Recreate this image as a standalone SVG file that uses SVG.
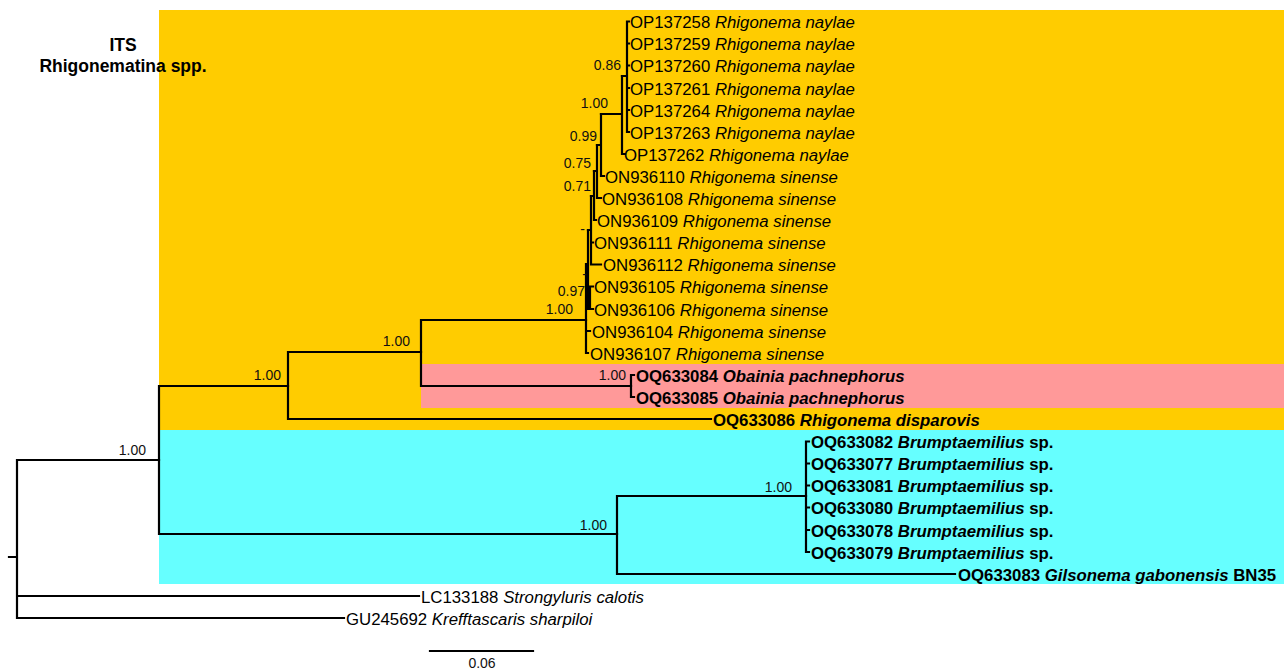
<svg xmlns="http://www.w3.org/2000/svg" width="1284" height="671" viewBox="0 0 1284 671">
<style>
.leaf{font-family:"Liberation Sans",Arial,sans-serif;font-size:16.8px;fill:#000}
.b{font-weight:bold}
.i{font-style:italic}
.sup{font-family:"Liberation Sans",Arial,sans-serif;font-size:14px;fill:#111;text-anchor:end}
.title{font-family:"Liberation Sans",Arial,sans-serif;font-size:17.5px;font-weight:bold;fill:#000;text-anchor:middle}
.br{fill:none;stroke:#000;stroke-width:2.2;stroke-linecap:square}
</style>
<rect width="1284" height="671" fill="#fff"/>
<g id="backgrounds">
<rect x="159" y="10" width="1125" height="420" fill="#FFCC00"/>
<rect x="421" y="364" width="863" height="44" fill="#FF9999"/>
<rect x="159" y="430" width="1125" height="154" fill="#66FFFF"/>
</g>
<g id="title">
<text class="title" x="123" y="51">ITS</text>
<text class="title" x="123" y="72">Rhigonematina spp.</text>
</g>
<g id="connectors">
<path class="br" d="M9,557H17M17,460V618M17,460H159M17,596H419M17,618H344"/>
<path class="br" d="M159,386V534M159,386H288M159,534H617"/>
<path class="br" d="M288,352V419M288,352H421M288,419H711"/>
<path class="br" d="M421,320V386M421,320H586M421,386H631"/>
<path class="br" d="M631,375V397M631,375H634M631,397H634"/>
<path class="br" d="M617,496V574M617,496H806M617,574H955"/>
<path class="br" d="M806,441.5V552M806,441.5H809M806,463.5H809M806,485.5H809M806,507.5H809M806,530H809M806,552H809"/>
<path class="br" d="M586,264V353M586,331H590M586,353H588M586,288H588"/>
<path class="br" d="M588,230V309M588,297H590M590,286.5V309M590,286.5H593M590,309H593"/>
<path class="br" d="M588,230H591M591,196V264.5M591,242.5H593M591,264.5H601"/>
<path class="br" d="M591,196H594M594,171V220M594,220H596"/>
<path class="br" d="M594,171H597M597,145V198M597,198H601"/>
<path class="br" d="M597,145H601M601,114V176M601,176H604"/>
<path class="br" d="M601,114H622M622,76V154M622,154H625"/>
<path class="br" d="M622,76H627M627,21.5V132M627,21.5H629M627,43.5H629M627,65.5H629M627,88H629M627,110H629M627,132H629"/>
<path class="br" d="M430,651H533"/>
</g>
<g id="support-values">
<text class="sup" x="621" y="70">0.86</text>
<text class="sup" x="608" y="108">1.00</text>
<text class="sup" x="597" y="141">0.99</text>
<text class="sup" x="591" y="168">0.75</text>
<text class="sup" x="591" y="191">0.71</text>
<text class="sup" x="585" y="234">-</text>
<text class="sup" x="587" y="279">-</text>
<text class="sup" x="585" y="296">0.97</text>
<text class="sup" x="573" y="314">1.00</text>
<text class="sup" x="410" y="346">1.00</text>
<text class="sup" x="281" y="380">1.00</text>
<text class="sup" x="626" y="380">1.00</text>
<text class="sup" x="146" y="455">1.00</text>
<text class="sup" x="607" y="530">1.00</text>
<text class="sup" x="792" y="492">1.00</text>
</g>
<g id="leaf-OP137258"><text class="leaf" x="630" y="28">OP137258 <tspan class="i">Rhigonema naylae</tspan></text></g>
<g id="leaf-OP137259"><text class="leaf" x="630" y="50">OP137259 <tspan class="i">Rhigonema naylae</tspan></text></g>
<g id="leaf-OP137260"><text class="leaf" x="630" y="72">OP137260 <tspan class="i">Rhigonema naylae</tspan></text></g>
<g id="leaf-OP137261"><text class="leaf" x="630" y="94.5">OP137261 <tspan class="i">Rhigonema naylae</tspan></text></g>
<g id="leaf-OP137264"><text class="leaf" x="630" y="116.5">OP137264 <tspan class="i">Rhigonema naylae</tspan></text></g>
<g id="leaf-OP137263"><text class="leaf" x="630" y="138.5">OP137263 <tspan class="i">Rhigonema naylae</tspan></text></g>
<g id="leaf-OP137262"><text class="leaf" x="624" y="160.5">OP137262 <tspan class="i">Rhigonema naylae</tspan></text></g>
<g id="leaf-ON936110"><text class="leaf" x="605" y="182.5">ON936110 <tspan class="i">Rhigonema sinense</tspan></text></g>
<g id="leaf-ON936108"><text class="leaf" x="602" y="204.5">ON936108 <tspan class="i">Rhigonema sinense</tspan></text></g>
<g id="leaf-ON936109"><text class="leaf" x="597" y="226.5">ON936109 <tspan class="i">Rhigonema sinense</tspan></text></g>
<g id="leaf-ON936111"><text class="leaf" x="594" y="249">ON936111 <tspan class="i">Rhigonema sinense</tspan></text></g>
<g id="leaf-ON936112"><text class="leaf" x="603" y="271">ON936112 <tspan class="i">Rhigonema sinense</tspan></text></g>
<g id="leaf-ON936105"><text class="leaf" x="594" y="293">ON936105 <tspan class="i">Rhigonema sinense</tspan></text></g>
<g id="leaf-ON936106"><text class="leaf" x="594" y="315.5">ON936106 <tspan class="i">Rhigonema sinense</tspan></text></g>
<g id="leaf-ON936104"><text class="leaf" x="592" y="337.5">ON936104 <tspan class="i">Rhigonema sinense</tspan></text></g>
<g id="leaf-ON936107"><text class="leaf" x="590" y="359.5">ON936107 <tspan class="i">Rhigonema sinense</tspan></text></g>
<g id="leaf-OQ633084"><text class="leaf b" x="636" y="381.5">OQ633084 <tspan class="i">Obainia pachnephorus</tspan></text></g>
<g id="leaf-OQ633085"><text class="leaf b" x="636" y="403.5">OQ633085 <tspan class="i">Obainia pachnephorus</tspan></text></g>
<g id="leaf-OQ633086"><text class="leaf b" x="713" y="425.5">OQ633086 <tspan class="i">Rhigonema disparovis</tspan></text></g>
<g id="leaf-OQ633082"><text class="leaf b" x="811" y="448">OQ633082 <tspan class="i">Brumptaemilius</tspan> sp.</text></g>
<g id="leaf-OQ633077"><text class="leaf b" x="811" y="470">OQ633077 <tspan class="i">Brumptaemilius</tspan> sp.</text></g>
<g id="leaf-OQ633081"><text class="leaf b" x="811" y="492">OQ633081 <tspan class="i">Brumptaemilius</tspan> sp.</text></g>
<g id="leaf-OQ633080"><text class="leaf b" x="811" y="514">OQ633080 <tspan class="i">Brumptaemilius</tspan> sp.</text></g>
<g id="leaf-OQ633078"><text class="leaf b" x="811" y="536.5">OQ633078 <tspan class="i">Brumptaemilius</tspan> sp.</text></g>
<g id="leaf-OQ633079"><text class="leaf b" x="811" y="558.5">OQ633079 <tspan class="i">Brumptaemilius</tspan> sp.</text></g>
<g id="leaf-OQ633083"><text class="leaf b" x="958" y="580.5">OQ633083 <tspan class="i">Gilsonema gabonensis</tspan> BN35</text></g>
<g id="leaf-LC133188"><text class="leaf" x="421" y="602.5">LC133188 <tspan class="i">Strongyluris calotis</tspan></text></g>
<g id="leaf-GU245692"><text class="leaf" x="346" y="624.5">GU245692 <tspan class="i">Krefftascaris sharpiloi</tspan></text></g>
<g id="scale-bar"><text class="sup" x="482" y="668" style="text-anchor:middle">0.06</text></g>
</svg>
